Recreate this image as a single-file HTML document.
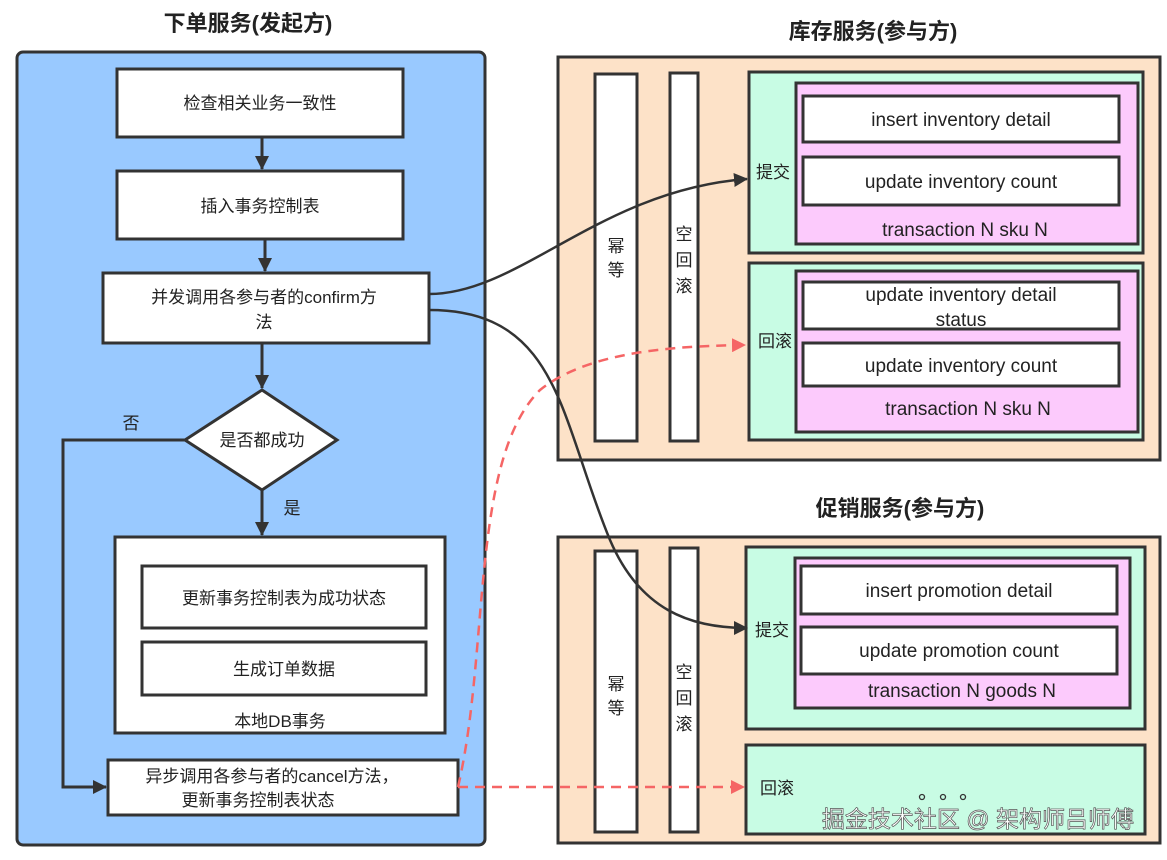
<!DOCTYPE html>
<html><head><meta charset="utf-8"><style>
body{margin:0;background:#fff;}
svg text{font-family:"Liberation Sans","Noto Sans CJK SC",sans-serif;fill:#222;}
</style></head><body>
<svg width="1167" height="855" viewBox="0 0 1167 855" xmlns="http://www.w3.org/2000/svg">
<defs>
<marker id="abig" markerWidth="14" markerHeight="14" refX="13" refY="7" orient="auto" markerUnits="userSpaceOnUse"><path d="M0,0 L14,7 L0,14 z" fill="#333"/></marker>
<marker id="ar" markerWidth="14" markerHeight="14" refX="13" refY="7" orient="auto" markerUnits="userSpaceOnUse"><path d="M0,0 L14,7 L0,14 z" fill="#f56565"/></marker>
</defs>
<g font-weight="bold" font-size="22" text-anchor="middle">
<text x="248" y="31">下单服务(发起方)</text>
<text x="873" y="39">库存服务(参与方)</text>
<text x="900" y="516">促销服务(参与方)</text>
</g>
<rect x="17" y="52" width="468" height="793" rx="6" fill="#99c9ff" stroke="#333" stroke-width="3"/>
<g fill="#fff" stroke="#333" stroke-width="3">
<rect x="117" y="69" width="286" height="68"/>
<rect x="117" y="171" width="286" height="68"/>
<rect x="103" y="273" width="326" height="70"/>
<polygon points="262,390 337,440 262,490 185,440"/>
<rect x="115" y="537" width="330" height="196"/>
<rect x="142" y="566" width="284" height="62"/>
<rect x="142" y="642" width="284" height="53"/>
<rect x="108" y="760" width="350" height="55"/>
</g>
<g stroke="#333" stroke-width="3" fill="none">
<line x1="262" y1="137" x2="262" y2="169" marker-end="url(#abig)"/>
<line x1="265" y1="239" x2="265" y2="271" marker-end="url(#abig)"/>
<line x1="262" y1="343" x2="262" y2="388" marker-end="url(#abig)"/>
<line x1="262" y1="490" x2="262" y2="535" marker-end="url(#abig)"/>
<polyline points="185,440 63,440 63,787 106,787" marker-end="url(#abig)"/>
</g>
<g font-size="17" text-anchor="middle">
<text x="260" y="109">检查相关业务一致性</text>
<text x="260" y="212">插入事务控制表</text>
<text x="264" y="303">并发调用各参与者的confirm方</text>
<text x="264" y="328">法</text>
<text x="262" y="446">是否都成功</text>
<text x="284" y="604">更新事务控制表为成功状态</text>
<text x="284" y="675">生成订单数据</text>
<text x="280" y="727">本地DB事务</text>
<text x="272" y="782">异步调用各参与者的cancel方法，</text>
<text x="258" y="806">更新事务控制表状态</text>
<text x="131" y="429">否</text>
<text x="292" y="514">是</text>
</g>
<rect x="558" y="57" width="602" height="403" fill="#fde2c8" stroke="#333" stroke-width="3"/>
<g stroke="#333" stroke-width="3">
<rect x="595" y="74" width="42" height="367" fill="#fff"/>
<rect x="670" y="73" width="28" height="368" fill="#fff"/>
<rect x="749" y="72" width="394" height="181" fill="#c8fce4"/>
<rect x="796" y="83" width="342" height="161" fill="#fccafc"/>
<rect x="803" y="96" width="316" height="46" fill="#fff"/>
<rect x="803" y="157" width="316" height="48" fill="#fff"/>
<rect x="749" y="263" width="394" height="177" fill="#c8fce4"/>
<rect x="796" y="271" width="342" height="161" fill="#fccafc"/>
<rect x="803" y="282" width="316" height="47" fill="#fff"/>
<rect x="803" y="343" width="316" height="43" fill="#fff"/>
</g>
<rect x="558" y="537" width="602" height="306" fill="#fde2c8" stroke="#333" stroke-width="3"/>
<g stroke="#333" stroke-width="3">
<rect x="595" y="551" width="42" height="281" fill="#fff"/>
<rect x="670" y="548" width="28" height="284" fill="#fff"/>
<rect x="746" y="547" width="399" height="182" fill="#c8fce4"/>
<rect x="795" y="558" width="335" height="150" fill="#fccafc"/>
<rect x="801" y="566" width="316" height="48" fill="#fff"/>
<rect x="801" y="627" width="316" height="47" fill="#fff"/>
<rect x="746" y="745" width="399" height="89" fill="#c8fce4"/>
</g>
<g font-size="19" text-anchor="middle">
<text x="961" y="126">insert inventory detail</text>
<text x="961" y="188">update inventory count</text>
<text x="965" y="236">transaction N sku N</text>
<text x="961" y="301">update inventory detail</text>
<text x="961" y="326">status</text>
<text x="961" y="372">update inventory count</text>
<text x="968" y="415">transaction N sku N</text>
<text x="959" y="597">insert promotion detail</text>
<text x="959" y="657">update promotion count</text>
<text x="962" y="697">transaction N goods N</text>
</g>
<g font-size="17" text-anchor="middle">
<text x="773" y="178">提交</text>
<text x="775" y="347">回滚</text>
<text x="772" y="636">提交</text>
<text x="777" y="794">回滚</text>
<text x="616" y="252">幂</text><text x="616" y="276">等</text>
<text x="684" y="240">空</text><text x="684" y="266">回</text><text x="684" y="292">滚</text>
<text x="616" y="690">幂</text><text x="616" y="714">等</text>
<text x="684" y="678">空</text><text x="684" y="704">回</text><text x="684" y="730">滚</text>
</g>
<g fill="none" stroke="#333" stroke-width="1.3"><circle cx="922" cy="797" r="2.5"/><circle cx="943" cy="797" r="2.5"/><circle cx="963" cy="797" r="2.5"/></g>
<text x="978" y="827" font-size="23" text-anchor="middle" stroke="#555" stroke-width="0.7" style="fill:#fff">掘金技术社区 @ 架构师吕师傅</text>
<g fill="none" stroke-width="2.5">
<path d="M429,294 C520,294 600,190 747,179" stroke="#333" marker-end="url(#abig)"/>
<path d="M429,310 C560,310 560,420 610,540 C640,610 690,628 747,628" stroke="#333" marker-end="url(#abig)"/>
<path d="M458,787 C490,650 470,460 540,390 C590,350 680,346 745,345" stroke="#f56565" stroke-dasharray="10,7" marker-end="url(#ar)"/>
<line x1="458" y1="787" x2="744" y2="787" stroke="#f56565" stroke-dasharray="10,7" marker-end="url(#ar)"/>
</g>
</svg>
</body></html>
